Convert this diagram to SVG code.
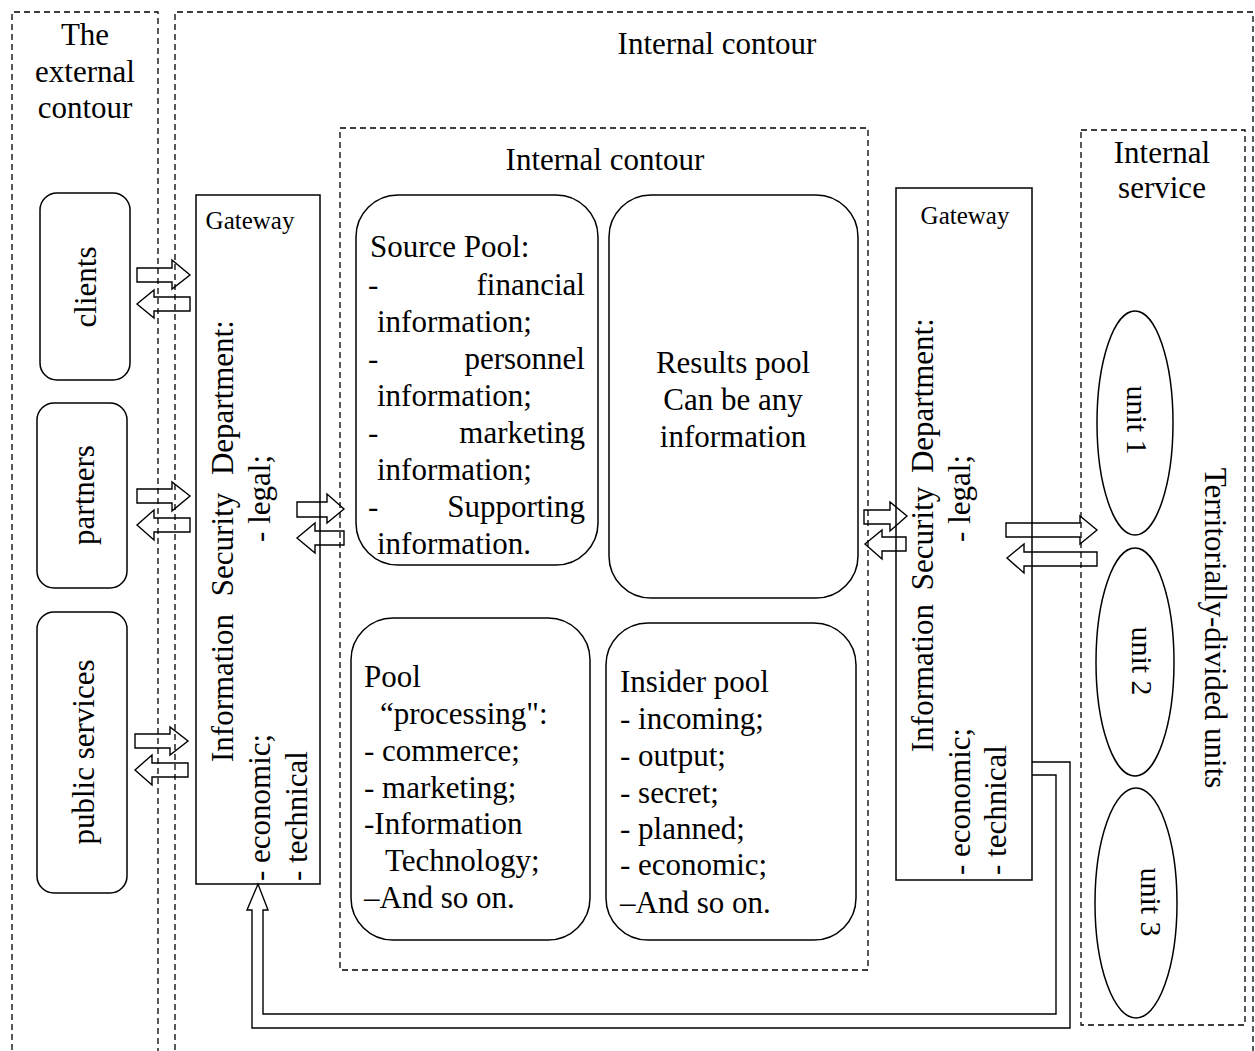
<svg xmlns="http://www.w3.org/2000/svg" width="1255" height="1051" viewBox="0 0 1255 1051">
<style>
text{font-family:"Liberation Serif","Times New Roman",serif;fill:#000;font-size:31px}
.dash{fill:none;stroke:#000;stroke-width:1.3;stroke-dasharray:6 4}
.box{fill:none;stroke:#000;stroke-width:1.5}
.arr{fill:none;stroke:#000;stroke-width:1.4}
.gw{font-size:25px}
.m{text-anchor:middle}
.e{text-anchor:end}
</style>
<rect width="1255" height="1051" fill="#fff"/>
<g id="contours">
<path class="dash" d="M12,1060 V12 H158 V1060"/>
<path class="dash" d="M175,1060 V12 H1253 V1060"/>
<rect class="dash" x="340" y="128" width="528" height="842"/>
<rect class="dash" x="1081" y="130" width="164" height="895"/>
<text class="m" x="85" y="45">The</text>
<text class="m" x="85" y="82">external</text>
<text class="m" x="85" y="118">contour</text>
<text class="m" x="717" y="54">Internal contour</text>
<text class="m" x="605" y="170">Internal contour</text>
<text class="m" x="1162" y="163">Internal</text>
<text class="m" x="1162" y="198">service</text>
<text class="m" transform="translate(1205,628) rotate(90)">Territorially-divided units</text>
</g>
<g id="clients">
<rect class="box" x="40" y="193" width="90" height="187" rx="17"/>
<text class="m" transform="translate(96,287) rotate(-90)">clients</text>
</g>
<g id="partners">
<rect class="box" x="37" y="403" width="90" height="185" rx="17"/>
<text class="m" transform="translate(94,495) rotate(-90)">partners</text>
</g>
<g id="public-services">
<rect class="box" x="37" y="612" width="90" height="281" rx="17"/>
<text class="m" transform="translate(94,752) rotate(-90)">public services</text>
</g>
<g id="gateway-left">
<rect class="box" x="196" y="195" width="124" height="689"/>
<text class="gw m" x="250" y="229">Gateway</text>
<text transform="translate(233,762) rotate(-90)" word-spacing="10">Information Security Department:</text>
<text transform="translate(270,881) rotate(-90)">- economic;</text>
<text class="e" transform="translate(270,455) rotate(-90)">- legal;</text>
<text transform="translate(307,881) rotate(-90)">- technical</text>
</g>
<g id="source-pool">
<rect class="box" x="356" y="195" width="242" height="370" rx="42"/>
<text x="370" y="257">Source Pool:</text>
<text x="368" y="295">-</text><text class="e" x="585" y="295">financial</text>
<text x="377" y="332">information;</text>
<text x="368" y="369">-</text><text class="e" x="585" y="369">personnel</text>
<text x="377" y="406">information;</text>
<text x="368" y="443">-</text><text class="e" x="585" y="443">marketing</text>
<text x="377" y="480">information;</text>
<text x="368" y="517">-</text><text class="e" x="585" y="517">Supporting</text>
<text x="377" y="554">information.</text>
</g>
<g id="results-pool">
<rect class="box" x="609" y="195" width="249" height="403" rx="42"/>
<text class="m" x="733" y="373">Results pool</text>
<text class="m" x="733" y="410">Can be any</text>
<text class="m" x="733" y="447">information</text>
</g>
<g id="processing-pool">
<rect class="box" x="351" y="618" width="239" height="322" rx="42"/>
<text x="364" y="687">Pool</text>
<text x="380" y="724">“processing":</text>
<text x="364" y="761">- commerce;</text>
<text x="364" y="798">- marketing;</text>
<text x="364" y="834">-Information</text>
<text x="385" y="871">Technology;</text>
<text x="364" y="908">–And so on.</text>
</g>
<g id="insider-pool">
<rect class="box" x="606" y="623" width="250" height="317" rx="42"/>
<text x="620" y="692">Insider pool</text>
<text x="620" y="729">- incoming;</text>
<text x="620" y="766">- output;</text>
<text x="620" y="803">- secret;</text>
<text x="620" y="839">- planned;</text>
<text x="620" y="875">- economic;</text>
<text x="620" y="913">–And so on.</text>
</g>
<g id="gateway-right">
<rect class="box" x="896" y="188" width="136" height="692"/>
<text class="gw m" x="965" y="224">Gateway</text>
<text transform="translate(933,752) rotate(-90)" word-spacing="6">Information Security Department:</text>
<text transform="translate(970,875) rotate(-90)">- economic;</text>
<text class="e" transform="translate(970,455) rotate(-90)">- legal;</text>
<text transform="translate(1006,875) rotate(-90)">- technical</text>
</g>
<g id="unit1">
<ellipse class="box" cx="1135" cy="423" rx="38" ry="112"/>
<text class="m" transform="translate(1127,420) rotate(90)" style="font-size:30px">unit 1</text>
</g>
<g id="unit2">
<ellipse class="box" cx="1135" cy="662" rx="39" ry="114"/>
<text class="m" transform="translate(1132,661) rotate(90)" style="font-size:30px">unit 2</text>
</g>
<g id="unit3">
<ellipse class="box" cx="1136" cy="903" rx="41" ry="115"/>
<text class="m" transform="translate(1141,902) rotate(90)" style="font-size:30px">unit 3</text>
</g>
<g id="connectors">
<polygon class="arr" points="137,268 172,268 172,260 190,275 172,289 172,282 137,282"/>
<polygon class="arr" points="190,297 154,297 154,290 137,304 154,318 154,311 190,311"/>
<polygon class="arr" points="137,489 172,489 172,482 190,496 172,511 172,503 137,503"/>
<polygon class="arr" points="190,518 154,518 154,510 137,525 154,540 154,532 190,532"/>
<polygon class="arr" points="135,734 170,734 170,727 188,741 170,755 170,748 135,748"/>
<polygon class="arr" points="188,763 152,763 152,755 135,770 152,785 152,777 188,777"/>
<polygon class="arr" points="297,502 327,502 327,494 344,509 327,523 327,517 297,517"/>
<polygon class="arr" points="344,531 315,531 315,523 297,538 315,553 315,545 344,545"/>
<polygon class="arr" points="864,510 890,510 890,502 907,516 890,531 890,524 864,524"/>
<polygon class="arr" points="906,537 882,537 882,530 865,544 882,559 882,551 906,551"/>
<polygon class="arr" points="1006,523 1080,523 1080,516 1097,530 1080,544 1080,537 1006,537"/>
<polygon class="arr" points="1097,552 1024,552 1024,544 1007,558 1024,573 1024,566 1097,566"/>
<path class="arr" d="M1032,762 H1070 V1028 H252 V910 H247 L258,884 L268,910 H263 V1014 H1056 V775 H1032"/>
</g>
</svg>
